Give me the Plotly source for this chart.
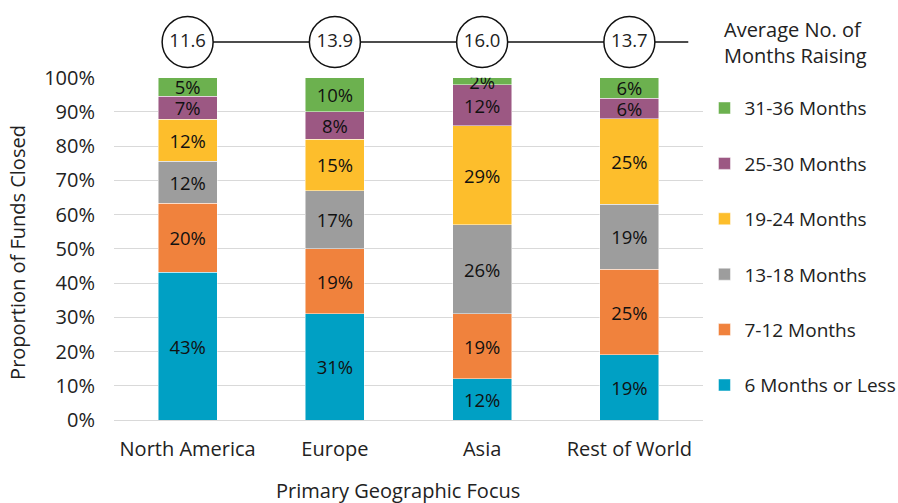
import plotly.graph_objects as go

regions = ["North America", "Europe", "Asia", "Rest of World"]
avg_months = [11.6, 13.9, 16.0, 13.7]

series_names = ["6 Months or Less", "7-12 Months", "13-18 Months",
                "19-24 Months", "25-30 Months", "31-36 Months"]
s_6_or_less = [43.2, 31, 12, 19]
s_7_12 = [20.1, 19, 19, 25]
s_13_18 = [12.3, 17, 26, 19]
s_19_24 = [12.2, 15, 29, 25]
s_25_30 = [6.8, 8, 12, 6]
s_31_36 = [5.4, 10, 2, 6]
series_values = [s_6_or_less, s_7_12, s_13_18, s_19_24, s_25_30, s_31_36]
colors = ["#00A0C4", "#F0823D", "#9D9D9D", "#FDBE2C", "#9C5883", "#6CB14F"]

FONT = "Open Sans"
TXT = "#222222"
fig = go.Figure()

n = len(series_names)
for i, (name, vals, col) in enumerate(zip(series_names, series_values, colors)):
    fig.add_trace(go.Bar(
        x=regions, y=vals, name=name, legendgroup=name, legendrank=n - i,
        marker=dict(color=col, line=dict(color="rgba(255,255,255,0.6)", width=0.8)),
        width=0.4,
        texttemplate="%{y:.0f}%", textposition="inside", insidetextanchor="middle",
        textangle=0, constraintext="none",
        textfont=dict(family=FONT, size=18.5, color="#111111"),
        hoverinfo="skip",
    ))

# Average months circles on a separate top axis
fig.add_trace(go.Scatter(
    x=regions, y=[0.5] * len(regions), yaxis="y2", mode="markers+text",
    marker=dict(symbol="circle", size=51, color="white", line=dict(color="#111111", width=1.5)),
    text=[f"{v:.1f}" for v in avg_months], textposition="middle center",
    textfont=dict(family=FONT, size=18.5, color=TXT),
    showlegend=False, hoverinfo="skip", cliponaxis=False,
))

fig.add_shape(type="line", xref="x", yref="y2", x0=0, x1=3.4, y0=0.5, y1=0.5,
              line=dict(color="#111111", width=1.5), layer="below")

fig.add_annotation(text="Primary Geographic Focus", xref="paper", yref="paper",
                   x=0.482, y=-0.171, xanchor="center", yanchor="middle", showarrow=False,
                   font=dict(family=FONT, size=20, color=TXT))
fig.add_annotation(text="Proportion of Funds Closed", xref="paper", yref="paper",
                   x=-0.163, y=0.41, xanchor="center", yanchor="middle", showarrow=False,
                   textangle=-90, font=dict(family=FONT, size=20, color=TXT))
fig.add_annotation(text="Average No. of<br>Months Raising", xref="paper", yref="paper",
                   x=1.0323, y=0.92, xanchor="left", yanchor="middle", align="left",
                   showarrow=False, font=dict(family=FONT, size=20, color=TXT))

fig.update_layout(
    width=898, height=503,
    margin=dict(l=114, r=195, t=10, b=83, autoexpand=False),
    barmode="stack",
    paper_bgcolor="white", plot_bgcolor="white",
    font=dict(family=FONT, size=20, color=TXT),
    uniformtext=dict(minsize=18, mode="show"),
    xaxis=dict(range=[-0.5, 3.5], showgrid=False, showline=False, ticks="",
               ticklabelstandoff=15,
               tickfont=dict(family=FONT, size=20, color=TXT)),
    yaxis=dict(domain=[0, 0.835], range=[0, 100], dtick=10, ticksuffix="%",
               showgrid=True, gridcolor="#D9D9D9", gridwidth=1,
               zeroline=True, zerolinecolor="#D9D9D9", zerolinewidth=1,
               ticklabelstandoff=18,
               tickfont=dict(family=FONT, size=20, color=TXT)),
    yaxis2=dict(domain=[0.85, 1], range=[0.04, 1], anchor="x", visible=False, fixedrange=True),
    legend=dict(
        x=1.0025, xanchor="left", y=0.807, yanchor="top",
        traceorder="grouped", tracegroupgap=27.7,
        font=dict(family=FONT, size=19, color=TXT),
        itemwidth=30, bgcolor="rgba(0,0,0,0)",
    ),
)

fig.write_html("out.html")
